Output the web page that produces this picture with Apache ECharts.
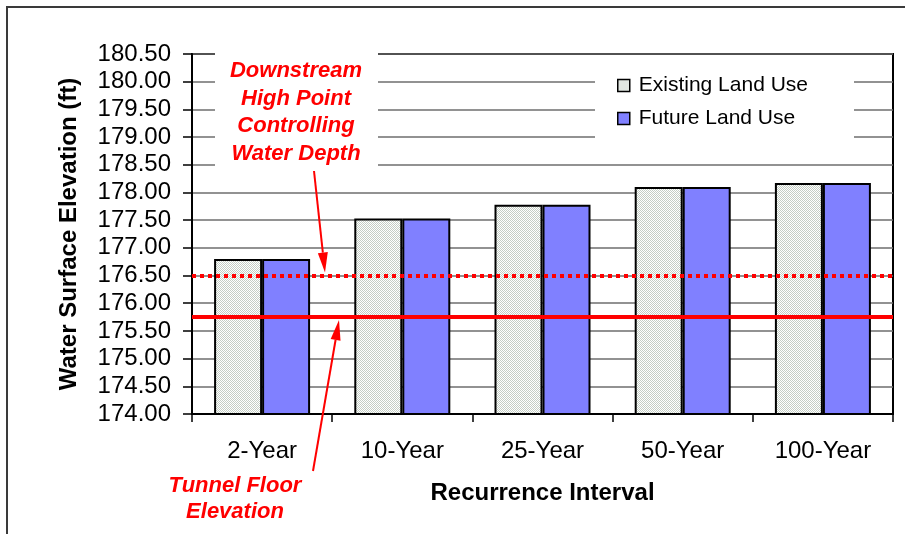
<!DOCTYPE html>
<html>
<head>
<meta charset="utf-8">
<script src="https://cdn.jsdelivr.net/npm/echarts@6.0.0/dist/echarts.min.js"></script>
<style>
  html, body { margin: 0; padding: 0; background: #fff; }
  #chart { width: 905px; height: 534px; }
</style>
</head>
<body>
<div id="chart"></div>
<script>
// Water surface elevations (ft) by storm recurrence interval
const categories = ['2-Year', '10-Year', '25-Year', '50-Year', '100-Year'];
const existingLandUse = [176.80, 177.53, 177.78, 178.10, 178.17];
const futureLandUse = [176.80, 177.53, 177.78, 178.10, 178.17];

// Reference elevations (ft)
const highPointElevation = 176.50;   // downstream high point controlling water depth
const tunnelFloorElevation = 175.75; // tunnel floor

// Value axis range
const yMin = 174.0;
const yMax = 180.5;
const yStep = 0.5;

const FONT = '"Liberation Sans", Arial, Helvetica, sans-serif';
const RED = '#ff0000';

// Fine stippled fill for the existing-land-use bars
function stipple() {
  const c = document.createElement('canvas');
  c.width = 2; c.height = 2;
  const g = c.getContext('2d');
  g.fillStyle = '#ffffff';
  g.fillRect(0, 0, 2, 2);
  g.fillStyle = '#c4cdc4';
  g.fillRect(0, 0, 1, 1);
  g.fillRect(1, 1, 1, 1);
  return c;
}

const chart = echarts.init(document.getElementById('chart'), null, { renderer: 'canvas' });

chart.setOption({
  animation: false,
  backgroundColor: '#ffffff',
  textStyle: { fontFamily: FONT },
  grid: {
    left: 192, top: 54, right: 12, bottom: 120,
    show: true, backgroundColor: '#ffffff',
    borderColor: '#000', borderWidth: 2
  },
  legend: {
    orient: 'vertical',
    left: 595, top: 61,
    padding: [14, 46, 16, 22],
    itemWidth: 12, itemHeight: 12, itemGap: 12,
    backgroundColor: '#ffffff',
    icon: 'rect',
    itemStyle: { borderColor: '#000', borderWidth: 1.5 },
    textStyle: { fontSize: 21, color: '#000', fontFamily: FONT, lineHeight: 20, padding: [0, 0, 0, 4] },
    data: ['Existing Land Use', 'Future Land Use']
  },
  xAxis: {
    type: 'category',
    data: categories,
    name: 'Recurrence Interval',
    nameLocation: 'middle',
    nameGap: 67,
    nameTextStyle: { fontSize: 24, fontWeight: 'bold', color: '#000', fontFamily: FONT },
    axisLine: { lineStyle: { color: '#000', width: 2 } },
    axisTick: { show: true, length: 8, alignWithLabel: false, lineStyle: { color: '#000', width: 1.5 } },
    axisLabel: { fontSize: 24, color: '#000', margin: 25, fontFamily: FONT },
    splitLine: { show: false }
  },
  yAxis: {
    type: 'value',
    min: yMin, max: yMax, interval: yStep,
    name: 'Water Surface Elevation (ft)',
    nameLocation: 'middle',
    nameGap: 111,
    nameTextStyle: { fontSize: 24, fontWeight: 'bold', color: '#000', fontFamily: FONT },
    axisLine: { show: true, lineStyle: { color: '#000', width: 2 } },
    axisTick: { show: true, length: 9, lineStyle: { color: '#000', width: 1.5 } },
    axisLabel: { fontSize: 24, color: '#000', margin: 21, fontFamily: FONT, formatter: v => v.toFixed(2) },
    splitLine: { show: true, lineStyle: { color: '#6e6e6e', width: 1.5 } }
  },
  series: [
    {
      name: 'Existing Land Use',
      type: 'bar',
      data: existingLandUse,
      barWidth: 48,
      barGap: '0%',
      itemStyle: { color: { image: stipple(), repeat: 'repeat' }, borderColor: '#000', borderWidth: 2 }
    },
    {
      name: 'Future Land Use',
      type: 'bar',
      data: futureLandUse,
      barWidth: 48,
      barGap: '0%',
      itemStyle: { color: '#8080ff', borderColor: '#000', borderWidth: 2 },
      markLine: {
        silent: true,
        symbol: 'none',
        label: { show: false },
        data: [
          { yAxis: highPointElevation, lineStyle: { color: RED, width: 4, type: [4, 4] } },
          { yAxis: tunnelFloorElevation, lineStyle: { color: RED, width: 4, type: 'solid' } }
        ]
      }
    }
  ]
});

// Callout arrows point at the two reference elevations
function arrow(x0, y0, x1, y1, headLen, headW) {
  const dx = x1 - x0, dy = y1 - y0, L = Math.hypot(dx, dy);
  const ux = dx / L, uy = dy / L;
  const bx = x1 - ux * headLen, by = y1 - uy * headLen;
  const px = -uy * headW / 2, py = ux * headW / 2;
  return [
    { type: 'line', z: 60, silent: true, shape: { x1: x0, y1: y0, x2: bx, y2: by }, style: { stroke: RED, lineWidth: 2 } },
    { type: 'polygon', z: 60, silent: true, shape: { points: [[x1, y1], [bx + px, by + py], [bx - px, by - py]] }, style: { fill: RED } }
  ];
}

const yHigh = chart.convertToPixel({ yAxisIndex: 0 }, highPointElevation);
const yFloor = chart.convertToPixel({ yAxisIndex: 0 }, tunnelFloorElevation);

chart.setOption({
  graphic: [
    // outer frame
    { type: 'rect', z: 60, silent: true, shape: { x: 7, y: 7, width: 1000, height: 1000 },
      style: { fill: 'none', stroke: '#3a3a3a', lineWidth: 2 } },
    // clear panel behind the upper callout
    { type: 'rect', z: 50, silent: true, shape: { x: 215, y: 51, width: 163, height: 119 },
      style: { fill: '#ffffff' } },
    { type: 'text', z: 60, silent: true,
      style: { text: 'Downstream\nHigh Point\nControlling\nWater Depth', x: 296, y: 112.5,
        align: 'center', verticalAlign: 'middle', lineHeight: 27.7,
        font: 'italic bold 22px ' + FONT, fill: RED } },
    { type: 'text', z: 60, silent: true,
      style: { text: 'Tunnel Floor\nElevation', x: 235, y: 499,
        align: 'center', verticalAlign: 'middle', lineHeight: 26,
        font: 'italic bold 22px ' + FONT, fill: RED } },
    ...arrow(314, 171, 325, yHigh - 3, 20, 10),
    ...arrow(313, 471, 339, yFloor + 3, 20, 10)
  ]
});
</script>
</body>
</html>
